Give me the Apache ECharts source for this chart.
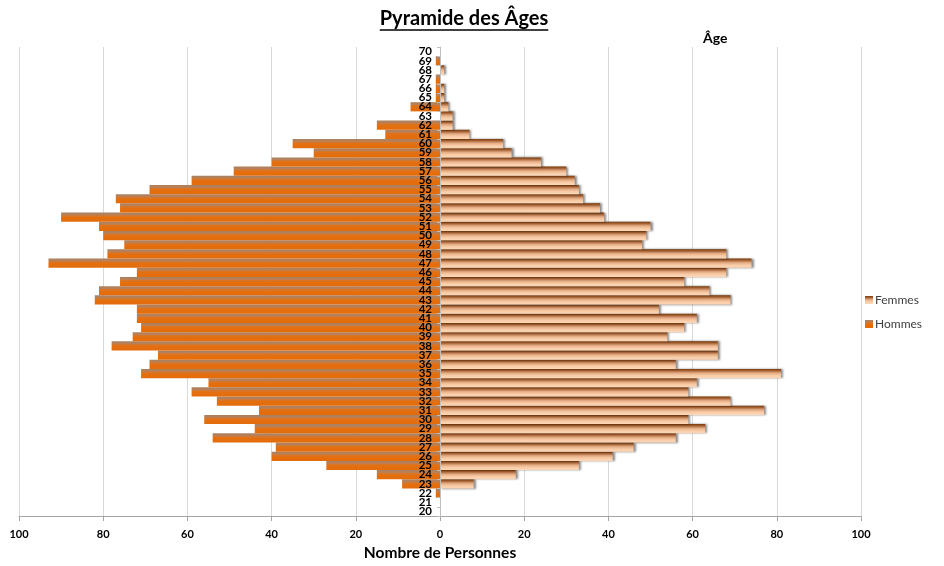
<!DOCTYPE html>
<html>
<head>
<meta charset="utf-8">
<script src="https://cdn.jsdelivr.net/npm/echarts@6/dist/echarts.min.js"></script>
<style>
html,body{margin:0;padding:0;background:#fff;}
#chart{width:944px;height:566px;}
</style>
</head>
<body>
<div id="chart"></div>
<script>
var ages = ['20','21','22','23','24','25','26','27','28','29','30','31','32','33','34','35','36','37','38','39','40','41','42','43','44','45','46','47','48','49','50','51','52','53','54','55','56','57','58','59','60','61','62','63','64','65','66','67','68','69','70'];
var hommes = [0,0,1,9,15,27,40,39,54,44,56,43,53,59,55,71,69,67,78,73,71,72,72,82,81,76,72,93,79,75,80,81,90,76,77,69,59,49,40,30,35,13,15,0,7,1,1,1,0,1,0];
var femmes = [0,0,0,8,18,33,41,46,56,63,59,77,69,59,61,81,56,66,66,54,58,61,52,69,64,58,68,74,68,48,49,50,39,38,34,33,32,30,24,17,15,7,3,3,2,1,1,0,1,0,0];
var xTicks = {min: -100, max: 100, step: 20};

var FONT = 'Lato, "Open Sans", sans-serif';
var chart = echarts.init(document.getElementById('chart'), null, {renderer: 'canvas'});

var titleText = 'Pyramide des Âges';
var titleFont = 'bold 20px ' + FONT;
var cv = document.createElement('canvas').getContext('2d');
cv.font = titleFont;
var tw = cv.measureText(titleText).width;
var tcx = 464;

var femmesColor = new echarts.graphic.LinearGradient(0, 0, 0, 1, [
  {offset: 0, color: '#7a3a05'},
  {offset: 0.2, color: '#a7643a'},
  {offset: 0.45, color: '#e3ab82'},
  {offset: 0.7, color: '#f8cba6'},
  {offset: 1, color: '#fcd7b8'}
]);
var hommesColor = new echarts.graphic.LinearGradient(0, 0, 0, 1, [
  {offset: 0, color: '#a9805f'},
  {offset: 0.25, color: '#b98058'},
  {offset: 0.4, color: '#dc7420'},
  {offset: 0.55, color: '#e46f10'},
  {offset: 1, color: '#e36c0a'}
]);

var option = {
  backgroundColor: '#ffffff',
  animation: false,
  graphic: [
    {type: 'text', x: tcx, y: 19, style: {text: titleText, font: titleFont, fill: '#000', textAlign: 'center', textVerticalAlign: 'middle'}},
    {type: 'line', shape: {x1: tcx - tw / 2, y1: 30, x2: tcx + tw / 2, y2: 30}, style: {stroke: '#000', lineWidth: 1.5}},
    {type: 'text', left: 703, top: 31, style: {text: 'Âge', font: 'bold 14px ' + FONT, fill: '#000'}}
  ],
  legend: {
    orient: 'vertical',
    left: 860,
    top: 289,
    itemWidth: 8,
    itemHeight: 8,
    itemGap: 12,
    icon: 'rect',
    data: ['Femmes', 'Hommes'],
    textStyle: {fontFamily: FONT, fontSize: 12, color: '#404040', padding: [0,0,0,-3]}
  },
  grid: {left: 19, right: 83, top: 47, bottom: 45, containLabel: false},
  xAxis: {
    type: 'value',
    min: xTicks.min,
    max: xTicks.max,
    interval: xTicks.step,
    name: 'Nombre de Personnes',
    nameLocation: 'middle',
    nameGap: 28,
    nameTextStyle: {fontFamily: FONT, fontSize: 15.5, fontWeight: 'bold', color: '#000'},
    axisLine: {show: true, lineStyle: {color: '#a6a6a6', width: 1}},
    axisTick: {show: true, length: 5, lineStyle: {color: '#a6a6a6'}},
    axisLabel: {
      fontFamily: FONT, fontSize: 11, fontWeight: 'bold', color: '#000', margin: 13,
      formatter: function (v) { return Math.abs(v); }
    },
    splitLine: {show: true, lineStyle: {color: '#d9d9d9', width: 1}}
  },
  yAxis: {
    type: 'category',
    data: ages,
    position: 'left',
    offset: -421,
    axisLine: {show: true, onZero: false, lineStyle: {color: '#bfbfbf'}},
    axisTick: {show: true, length: 3, lineStyle: {color: '#bfbfbf'}},
    axisLabel: {
      interval: 0, fontFamily: FONT, fontSize: 11.5, fontWeight: 'bold', color: '#000', margin: 8,
      lineHeight: 9
    },
    splitLine: {show: false},
    z: 5
  },
  series: [
    {
      name: 'Femmes',
      type: 'bar',
      data: femmes,
      barGap: '-100%',
      barCategoryGap: '0%',
      itemStyle: {
        color: femmesColor,
        shadowColor: 'rgba(0,0,0,0.45)',
        shadowOffsetX: 2,
        shadowOffsetY: 0,
        shadowBlur: 2
      },
      z: 3
    },
    {
      name: 'Hommes',
      type: 'bar',
      data: hommes.map(function (v) { return -v; }),
      barGap: '-100%',
      barCategoryGap: '0%',
      itemStyle: {color: hommesColor},
      z: 2
    }
  ]
};
chart.setOption(option);
</script>
</body>
</html>
